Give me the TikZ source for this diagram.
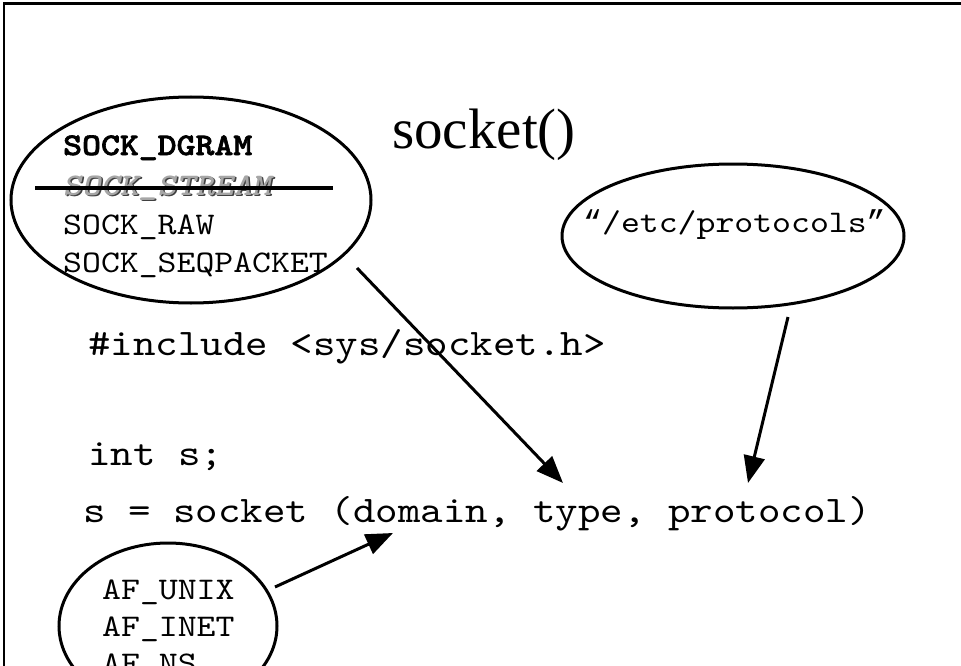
\documentclass[tikz,border=0pt]{standalone}
\usepackage{fontspec}
\setmainfont{Liberation Serif}
% typewriter face widened to Courier's 0.6em advance
\newfontfamily\cour{lmmono10-regular.otf}[
  BoldFont=lmmonolt10-bold.otf,
  BoldFeatures={FakeBold=2},
  BoldItalicFont=lmmonolt10-boldoblique.otf,
  FakeStretch=1.143]
% curly quotes taken from a face that has them
\newfontfamily\quotes{Liberation Mono}
\newcommand{\openq}{{\quotes“}}
\newcommand{\closeq}{{\quotes”}}
\usetikzlibrary{shapes.geometric,arrows.meta}

\tikzset{
  bubble/.style={draw, line width=3pt, ellipse, inner sep=0pt},
  small/.style={font=\fontsize{31.5}{36}\selectfont\cour, anchor=base west, inner sep=0pt},
  smallbold/.style={small, font=\fontsize{31.5}{36}\selectfont\cour\bfseries},
  engraved/.style={small, font=\fontsize{31.5}{36}\selectfont\cour\bfseries\itshape},
  code/.style={font=\fontsize{37.5}{42}\selectfont\cour, anchor=base west, inner sep=0pt},
  pointer/.style={line width=3pt, -{Triangle[length=27pt,width=21pt]}},
}

\begin{document}
\begin{tikzpicture}[x=1pt, y=-1pt]
  \useasboundingbox (0,0) rectangle (961,666);

  % slide frame: top and left edges
  \draw[line width=3pt] (3,4) -- (961,4);
  \draw[line width=1.5pt] (4,4) -- (4,666);

  % title
  \node[font=\fontsize{57}{60}\selectfont, anchor=base, inner sep=0pt] (title) at (484,149) {socket()};

  % bubbles
  \node[bubble, minimum width=360pt, minimum height=206pt] (types) at (191,200) {};
  \node[bubble, minimum width=342pt, minimum height=144pt] (proto) at (733,236) {};
  \node[bubble, minimum width=218pt, minimum height=166pt] (domains) at (168,626) {};

  % socket types
  \node[smallbold] (dgram) at (63,155) {SOCK\_DGRAM};
  \node[engraved, text=black!75] at (64.5,196.5) {SOCK\_STREAM};
  \node[engraved, text=black!35] (stream) at (63,195) {SOCK\_STREAM};
  \draw[line width=4pt] (35,188) -- (333,188);
  \node[small] (raw) at (63,234) {SOCK\_RAW};
  \node[small] (seq) at (63,272) {SOCK\_SEQPACKET};

  % protocol database
  \node[small] (etc) at (583,232) {\openq/etc/protocols\closeq};

  % address families
  \node[small] (unix) at (102,599) {AF\_UNIX};
  \node[small] (inet) at (102,636) {AF\_INET};
  \node[small] (ns) at (102,673) {AF\_NS};

  % code
  \node[code] (incl) at (88,355) {\#include <sys/socket.h>};
  \node[code] (decl) at (88,465) {int s;};
  \node[code] (call) at (83,522) {s = socket (domain, type, protocol)};

  % arrows into the call
  \coordinate (typeFrom) at (357,268);
  \coordinate (typeTo) at (563,483);
  \coordinate (protoFrom) at (788,317);
  \coordinate (protoTo) at (748,483);
  \coordinate (domFrom) at (275,587);
  \coordinate (domTo) at (393,533);
  \draw[pointer] (typeFrom) -- (typeTo);
  \draw[pointer] (protoFrom) -- (protoTo);
  \draw[pointer] (domFrom) -- (domTo);
\end{tikzpicture}
\end{document}
